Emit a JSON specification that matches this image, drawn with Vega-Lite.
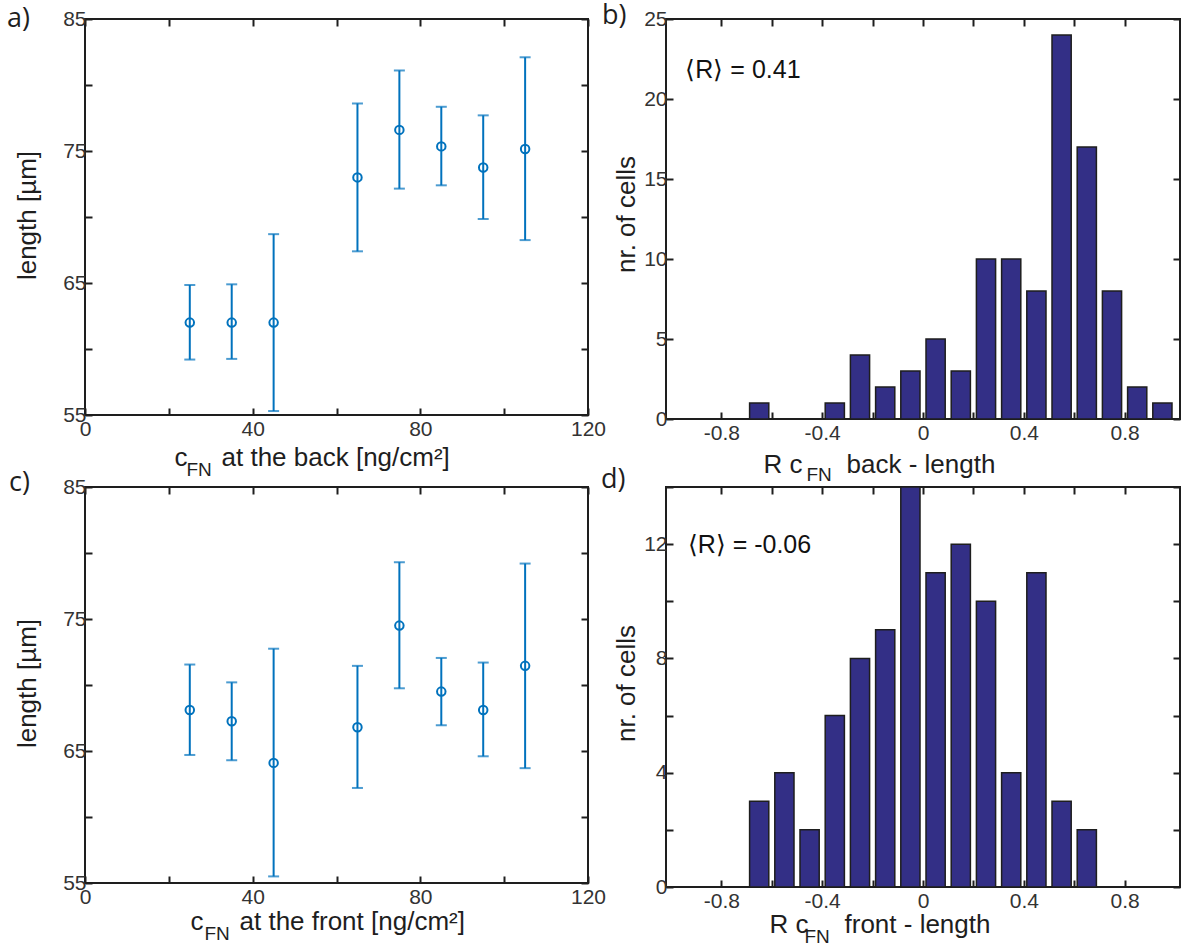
{
  "$schema": "https://vega.github.io/schema/vega-lite/v6.json",
  "background": "white",
  "padding": {"left": 6, "top": 1, "right": 10, "bottom": 5},
  "datasets": {
    "back": [
      {"c": 25, "len": 62.0, "lo": 59.2, "hi": 64.85},
      {"c": 35, "len": 62.0, "lo": 59.25, "hi": 64.9},
      {"c": 45, "len": 62.0, "lo": 55.3, "hi": 68.7},
      {"c": 65, "len": 73.0, "lo": 67.4, "hi": 78.6},
      {"c": 75, "len": 76.6, "lo": 72.15, "hi": 81.1},
      {"c": 85, "len": 75.35, "lo": 72.4, "hi": 78.35},
      {"c": 95, "len": 73.75, "lo": 69.85, "hi": 77.7},
      {"c": 105, "len": 75.15, "lo": 68.25, "hi": 82.1}
    ],
    "front": [
      {"c": 25, "len": 68.1, "lo": 64.7, "hi": 71.55},
      {"c": 35, "len": 67.25, "lo": 64.3, "hi": 70.2},
      {"c": 45, "len": 64.1, "lo": 55.5, "hi": 72.75},
      {"c": 65, "len": 66.8, "lo": 62.2, "hi": 71.45},
      {"c": 75, "len": 74.5, "lo": 69.75, "hi": 79.3},
      {"c": 85, "len": 69.5, "lo": 66.95, "hi": 72.05},
      {"c": 95, "len": 68.1, "lo": 64.6, "hi": 71.7},
      {"c": 105, "len": 71.45, "lo": 63.7, "hi": 79.2}
    ],
    "rBack": [
      {"r": -0.65, "n": 1},
      {"r": -0.35, "n": 1},
      {"r": -0.25, "n": 4},
      {"r": -0.15, "n": 2},
      {"r": -0.05, "n": 3},
      {"r": 0.05, "n": 5},
      {"r": 0.15, "n": 3},
      {"r": 0.25, "n": 10},
      {"r": 0.35, "n": 10},
      {"r": 0.45, "n": 8},
      {"r": 0.55, "n": 24},
      {"r": 0.65, "n": 17},
      {"r": 0.75, "n": 8},
      {"r": 0.85, "n": 2},
      {"r": 0.95, "n": 1}
    ],
    "rFront": [
      {"r": -0.65, "n": 3},
      {"r": -0.55, "n": 4},
      {"r": -0.45, "n": 2},
      {"r": -0.35, "n": 6},
      {"r": -0.25, "n": 8},
      {"r": -0.15, "n": 9},
      {"r": -0.05, "n": 14},
      {"r": 0.05, "n": 11},
      {"r": 0.15, "n": 12},
      {"r": 0.25, "n": 10},
      {"r": 0.35, "n": 4},
      {"r": 0.45, "n": 11},
      {"r": 0.55, "n": 3},
      {"r": 0.65, "n": 2}
    ]
  },
  "columns": 2,
  "spacing": {"row": 68, "column": 78},
  "bounds": "flush",
  "concat": [
    {
      "width": 503,
      "height": 396,
      "title": {"text": "a)", "dx": -78, "dy": 29},
      "data": {"name": "back"},
      "resolve": {"axis": {"x": "independent", "y": "independent"}},
      "layer": [
        {
          "mark": {"type": "rule", "color": "#0072BD", "strokeWidth": 2},
          "encoding": {
            "x": {"field": "c", "type": "quantitative", "scale": {"domain": [0, 120], "nice": false, "zero": false},
              "axis": {"orient": "bottom", "values": [0, 20, 40, 60, 80, 100, 120], "labelExpr": "datum.value % 40 === 0 ? datum.label : ''",
                "title": "c", "titleX": 89, "titleY": 50, "titleAlign": "left", "titleBaseline": "alphabetic", "titleAngle": 0}},
            "y": {"field": "lo", "type": "quantitative", "scale": {"domain": [55, 85], "nice": false, "zero": false},
              "axis": {"orient": "left", "values": [55, 60, 65, 70, 75, 80, 85], "labelExpr": "(datum.value - 55) % 10 === 0 ? datum.label : ''",
                "title": "length [µm]", "titleX": -50, "titleY": 196, "titleAngle": -90, "titleAlign": "center", "titleBaseline": "alphabetic"}},
            "y2": {"field": "hi"}
          }
        },
        {
          "mark": {"type": "tick", "orient": "horizontal", "color": "#0072BD", "size": 11, "thickness": 2},
          "encoding": {
            "x": {"field": "c", "type": "quantitative", "scale": {"domain": [0, 120], "nice": false, "zero": false},
              "axis": {"orient": "top", "values": [0, 20, 40, 60, 80, 100, 120], "labels": false,
                "title": "FN", "titleFontSize": 19, "titleX": 101, "titleY": 456.7, "titleAlign": "left", "titleBaseline": "alphabetic", "titleAngle": 0}},
            "y": {"field": "lo", "type": "quantitative", "scale": {"domain": [55, 85], "nice": false, "zero": false},
              "axis": {"orient": "right", "values": [55, 60, 65, 70, 75, 80, 85], "labels": false,
                "title": "at the back [ng/cm²]", "titleX": -367, "titleY": 446, "titleAngle": 0, "titleAlign": "left", "titleBaseline": "alphabetic"}}
          }
        },
        {
          "mark": {"type": "tick", "orient": "horizontal", "color": "#0072BD", "size": 11, "thickness": 2},
          "encoding": {
            "x": {"field": "c", "type": "quantitative", "scale": {"domain": [0, 120], "nice": false, "zero": false}, "axis": null},
            "y": {"field": "hi", "type": "quantitative", "scale": {"domain": [55, 85], "nice": false, "zero": false}, "axis": null}
          }
        },
        {
          "mark": {"type": "point", "shape": "circle", "filled": false, "size": 72, "strokeWidth": 2, "color": "#0072BD", "opacity": 1},
          "encoding": {
            "x": {"field": "c", "type": "quantitative", "scale": {"domain": [0, 120], "nice": false, "zero": false}, "axis": null},
            "y": {"field": "len", "type": "quantitative", "scale": {"domain": [55, 85], "nice": false, "zero": false}, "axis": null}
          }
        }
      ]
    },
    {
      "width": 514,
      "height": 400,
      "title": {"text": "b)", "dx": -64, "dy": 26},
      "resolve": {"axis": {"x": "independent", "y": "independent"}},
      "layer": [
        {
          "data": {"name": "rBack"},
          "mark": {"type": "bar", "orient": "vertical", "width": 19.2, "fill": "#332f86", "stroke": "#1e1e1e", "strokeWidth": 1.5},
          "encoding": {
            "x": {"field": "r", "type": "quantitative", "scale": {"domain": [-1, 1], "nice": false, "zero": false},
              "axis": {"orient": "bottom", "values": [-0.8, -0.6, -0.4, -0.2, 0, 0.2, 0.4, 0.6, 0.8],
                "labelExpr": "abs(round(datum.value * 10)) % 4 === 0 ? replace(format(datum.value, '.1~f'), '\u2212', '-') : ''",
                "title": "R c", "titleX": 97, "titleY": 53.5, "titleAlign": "left", "titleBaseline": "alphabetic", "titleAngle": 0}},
            "y": {"field": "n", "type": "quantitative", "scale": {"domain": [0, 25], "nice": false},
              "axis": {"orient": "left", "values": [0, 5, 10, 15, 20, 25],
                "title": "nr. of cells", "titleX": -32, "titleY": 195, "titleAngle": -90, "titleAlign": "center", "titleBaseline": "alphabetic"}}
          }
        },
        {
          "data": {"values": [{"label": "⟨R⟩ = 0.41"}]},
          "mark": {"type": "text", "align": "left", "baseline": "alphabetic", "font": "Liberation Sans", "fontSize": 25, "color": "#111111"},
          "encoding": {
            "text": {"field": "label"},
            "x": {"datum": -0.943, "type": "quantitative", "scale": {"domain": [-1, 1], "nice": false, "zero": false},
              "axis": {"orient": "top", "values": [-0.8, -0.6, -0.4, -0.2, 0, 0.2, 0.4, 0.6, 0.8], "labels": false,
                "title": "FN", "titleFontSize": 19, "titleX": 140, "titleY": 461.5, "titleAlign": "left", "titleBaseline": "alphabetic", "titleAngle": 0}},
            "y": {"datum": 21.3, "type": "quantitative", "scale": {"domain": [0, 25], "nice": false},
              "axis": {"orient": "right", "values": [0, 5, 10, 15, 20, 25], "labels": false,
                "title": "back - length", "titleX": -334, "titleY": 453.5, "titleAngle": 0, "titleAlign": "left", "titleBaseline": "alphabetic"}}
          }
        }
      ]
    },
    {
      "width": 503,
      "height": 396,
      "title": {"text": "c)", "dx": -76, "dy": 25},
      "data": {"name": "front"},
      "resolve": {"axis": {"x": "independent", "y": "independent"}},
      "layer": [
        {
          "mark": {"type": "rule", "color": "#0072BD", "strokeWidth": 2},
          "encoding": {
            "x": {"field": "c", "type": "quantitative", "scale": {"domain": [0, 120], "nice": false, "zero": false},
              "axis": {"orient": "bottom", "values": [0, 20, 40, 60, 80, 100, 120], "labelExpr": "datum.value % 40 === 0 ? datum.label : ''",
                "title": "c", "titleX": 105, "titleY": 46, "titleAlign": "left", "titleBaseline": "alphabetic", "titleAngle": 0}},
            "y": {"field": "lo", "type": "quantitative", "scale": {"domain": [55, 85], "nice": false, "zero": false},
              "axis": {"orient": "left", "values": [55, 60, 65, 70, 75, 80, 85], "labelExpr": "(datum.value - 55) % 10 === 0 ? datum.label : ''",
                "title": "length [µm]", "titleX": -50, "titleY": 196, "titleAngle": -90, "titleAlign": "center", "titleBaseline": "alphabetic"}},
            "y2": {"field": "hi"}
          }
        },
        {
          "mark": {"type": "tick", "orient": "horizontal", "color": "#0072BD", "size": 11, "thickness": 2},
          "encoding": {
            "x": {"field": "c", "type": "quantitative", "scale": {"domain": [0, 120], "nice": false, "zero": false},
              "axis": {"orient": "top", "values": [0, 20, 40, 60, 80, 100, 120], "labels": false,
                "title": "FN", "titleFontSize": 19, "titleX": 119, "titleY": 452, "titleAlign": "left", "titleBaseline": "alphabetic", "titleAngle": 0}},
            "y": {"field": "lo", "type": "quantitative", "scale": {"domain": [55, 85], "nice": false, "zero": false},
              "axis": {"orient": "right", "values": [55, 60, 65, 70, 75, 80, 85], "labels": false,
                "title": "at the front [ng/cm²]", "titleX": -349, "titleY": 442, "titleAngle": 0, "titleAlign": "left", "titleBaseline": "alphabetic"}}
          }
        },
        {
          "mark": {"type": "tick", "orient": "horizontal", "color": "#0072BD", "size": 11, "thickness": 2},
          "encoding": {
            "x": {"field": "c", "type": "quantitative", "scale": {"domain": [0, 120], "nice": false, "zero": false}, "axis": null},
            "y": {"field": "hi", "type": "quantitative", "scale": {"domain": [55, 85], "nice": false, "zero": false}, "axis": null}
          }
        },
        {
          "mark": {"type": "point", "shape": "circle", "filled": false, "size": 72, "strokeWidth": 2, "color": "#0072BD", "opacity": 1},
          "encoding": {
            "x": {"field": "c", "type": "quantitative", "scale": {"domain": [0, 120], "nice": false, "zero": false}, "axis": null},
            "y": {"field": "len", "type": "quantitative", "scale": {"domain": [55, 85], "nice": false, "zero": false}, "axis": null}
          }
        }
      ]
    },
    {
      "width": 514,
      "height": 400,
      "title": {"text": "d)", "dx": -65, "dy": 22},
      "resolve": {"axis": {"x": "independent", "y": "independent"}},
      "layer": [
        {
          "data": {"name": "rFront"},
          "mark": {"type": "bar", "orient": "vertical", "width": 19.2, "fill": "#332f86", "stroke": "#1e1e1e", "strokeWidth": 1.5},
          "encoding": {
            "x": {"field": "r", "type": "quantitative", "scale": {"domain": [-1, 1], "nice": false, "zero": false},
              "axis": {"orient": "bottom", "values": [-0.8, -0.6, -0.4, -0.2, 0, 0.2, 0.4, 0.6, 0.8],
                "labelExpr": "abs(round(datum.value * 10)) % 4 === 0 ? replace(format(datum.value, '.1~f'), '\u2212', '-') : ''",
                "title": "R c", "titleX": 103, "titleY": 45, "titleAlign": "left", "titleBaseline": "alphabetic", "titleAngle": 0}},
            "y": {"field": "n", "type": "quantitative", "scale": {"domain": [0, 14], "nice": false},
              "axis": {"orient": "left", "values": [0, 2, 4, 6, 8, 10, 12, 14], "labelExpr": "datum.value % 4 === 0 ? datum.label : ''",
                "title": "nr. of cells", "titleX": -32, "titleY": 196, "titleAngle": -90, "titleAlign": "center", "titleBaseline": "alphabetic"}}
          }
        },
        {
          "data": {"values": [{"label": "⟨R⟩ = -0.06"}]},
          "mark": {"type": "text", "align": "left", "baseline": "alphabetic", "font": "Liberation Sans", "fontSize": 25, "color": "#111111"},
          "encoding": {
            "text": {"field": "label"},
            "x": {"datum": -0.934, "type": "quantitative", "scale": {"domain": [-1, 1], "nice": false, "zero": false},
              "axis": {"orient": "top", "values": [-0.8, -0.6, -0.4, -0.2, 0, 0.2, 0.4, 0.6, 0.8], "labels": false,
                "title": "FN", "titleFontSize": 19, "titleX": 138, "titleY": 455, "titleAlign": "left", "titleBaseline": "alphabetic", "titleAngle": 0}},
            "y": {"datum": 11.7, "type": "quantitative", "scale": {"domain": [0, 14], "nice": false},
              "axis": {"orient": "right", "values": [0, 2, 4, 6, 8, 10, 12, 14], "labels": false,
                "title": "front - length", "titleX": -336, "titleY": 445, "titleAngle": 0, "titleAlign": "left", "titleBaseline": "alphabetic"}}
          }
        }
      ]
    }
  ],
  "config": {
    "font": "Liberation Sans",
    "view": {"stroke": "#1e1e1e", "strokeWidth": 2},
    "axis": {
      "domain": false,
      "grid": false,
      "ticks": true,
      "tickColor": "#1e1e1e",
      "tickWidth": 2,
      "tickSize": -7,
      "labelFont": "Liberation Sans",
      "labelFontSize": 21,
      "labelColor": "#333333",
      "labelPadding": 6,
      "labelOverlap": false,
      "labelFlush": false,
      "labelBound": false,
      "titleFont": "Liberation Sans",
      "titleFontSize": 26,
      "titleFontWeight": "normal",
      "titleColor": "#1e1e1e",
      "titlePadding": 0
    },
    "axisX": {"labelPadding": 10},
    "title": {
      "font": "Open Sans",
      "fontSize": 27,
      "fontWeight": "normal",
      "color": "#1e1e1e",
      "anchor": "start",
      "frame": "group",
      "offset": 0,
      "baseline": "alphabetic"
    }
  }
}
